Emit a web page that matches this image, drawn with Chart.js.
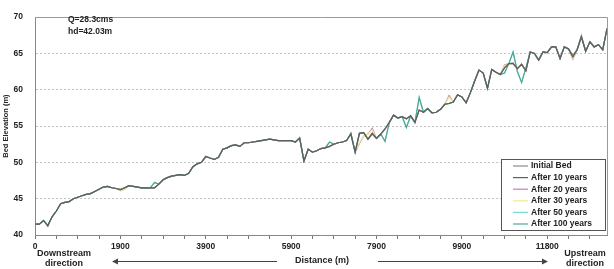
<!DOCTYPE html>
<html>
<head>
<meta charset="utf-8">
<script src="https://cdn.jsdelivr.net/npm/chart.js@4.4.0/dist/chart.umd.min.js"></script>
<style>
  html, body { margin: 0; padding: 0; background: #fff; }
  #wrap { width: 614px; height: 269px; }
</style>
</head>
<body>
<div id="wrap"><canvas id="bedChart" width="614" height="269"></canvas></div>
<script>
const FONT = "'Liberation Sans', Arial, sans-serif";

// distance along the channel (m), one category per cross section
const distances = [
  0, 50, 100, 200, 300, 400, 500, 600, 700, 800,
  900, 1000, 1100, 1200, 1300, 1400, 1500, 1600, 1700, 1800,
  1900, 2000, 2100, 2200, 2300, 2400, 2500, 2600, 2700, 2800,
  2900, 3000, 3100, 3200, 3300, 3400, 3500, 3600, 3700, 3800,
  3900, 4000, 4100, 4200, 4300, 4400, 4500, 4600, 4700, 4800,
  4900, 5000, 5100, 5200, 5300, 5400, 5500, 5600, 5700, 5800,
  5900, 6000, 6100, 6200, 6300, 6400, 6500, 6600, 6700, 6800,
  6900, 7000, 7100, 7200, 7300, 7400, 7500, 7600, 7700, 7800,
  7900, 8000, 8100, 8200, 8300, 8400, 8500, 8600, 8700, 8800,
  8900, 9000, 9100, 9200, 9300, 9400, 9500, 9600, 9700, 9800,
  9900, 10000, 10100, 10200, 10300, 10400, 10500, 10600, 10700, 10800,
  10850, 10900, 11000, 11100, 11200, 11300, 11400, 11500, 11600, 11700,
  11800, 11900, 12000, 12100, 12200, 12300, 12400, 12500, 12600, 12700,
  12800, 12900, 13000, 13100, 13200
];

const seriesNames = ['Initial Bed', 'After 10 years', 'After 20 years', 'After 30 years', 'After 50 years', 'After 100 years'];
const seriesColors = ['#8c8c8c', '#5e5e5e', '#c47cc4', '#eeee88', '#7ad8d8', '#4fa896'];
const notes = ['Q=28.3cms', 'hd=42.03m'];

// bed elevation (m)
const initialBed = [
  41.5, 41.5, 42.0, 41.2, 42.5, 43.3, 44.3, 44.5, 44.6, 45.0,
  45.2, 45.4, 45.6, 45.7, 46.0, 46.3, 46.6, 46.7, 46.5, 46.4,
  46.3, 46.5, 46.8, 46.7, 46.6, 46.5, 46.5, 46.5, 46.5, 47.0,
  47.6, 47.9, 48.1, 48.2, 48.3, 48.2, 48.5, 49.4, 49.8, 50.0,
  50.8, 50.6, 50.4, 50.7, 51.8, 52.0, 52.3, 52.4, 52.2, 52.7,
  52.7, 52.8, 52.9, 53.0, 53.1, 53.2, 53.1, 53.0, 53.0, 53.0,
  53.0, 52.8, 53.4, 50.2, 51.8, 51.4, 51.6, 51.9, 52.0, 52.2,
  52.5, 52.7, 52.8, 53.0, 53.9, 51.4, 54.0, 54.1, 53.2, 54.0,
  53.3, 53.9, 54.6, 55.5, 56.5, 56.1, 56.3, 56.0, 56.4, 55.5,
  57.2, 56.9, 57.4, 56.8, 56.9, 57.3, 58.0, 58.1, 58.3, 59.3,
  59.0, 58.2, 59.6, 61.2, 62.7, 62.3, 60.2, 62.8, 62.4, 62.1,
  63.0, 63.6, 63.7, 62.9, 63.5, 62.6, 65.2, 65.0, 64.1, 65.2,
  65.1, 65.9, 65.9, 64.3, 65.9, 65.6, 64.7, 65.5, 67.3, 65.3,
  66.6, 65.9, 66.2, 65.5, 68.4
];
const after10 = [
  41.5, 41.5, 42.0, 41.3, 42.5, 43.3, 44.3, 44.5, 44.6, 45.0,
  45.2, 45.4, 45.6, 45.7, 46.0, 46.3, 46.6, 46.7, 46.5, 46.4,
  46.2, 46.5, 46.8, 46.7, 46.6, 46.5, 46.5, 46.5, 46.5, 47.0,
  47.6, 47.9, 48.1, 48.2, 48.3, 48.2, 48.5, 49.4, 49.8, 50.0,
  50.8, 50.6, 50.4, 50.7, 51.8, 52.0, 52.3, 52.4, 52.2, 52.7,
  52.7, 52.8, 52.9, 53.0, 53.1, 53.2, 53.1, 53.0, 53.0, 53.0,
  53.0, 52.8, 53.3, 50.2, 51.8, 51.4, 51.6, 51.9, 52.0, 52.2,
  52.5, 52.7, 52.8, 53.0, 53.9, 51.4, 54.0, 54.1, 53.2, 54.0,
  53.3, 53.9, 54.6, 55.5, 56.5, 56.1, 56.3, 56.0, 56.4, 55.5,
  57.2, 56.9, 57.4, 56.8, 56.9, 57.3, 58.0, 58.1, 58.3, 59.3,
  59.0, 58.2, 59.6, 61.2, 62.7, 62.3, 60.2, 62.8, 62.4, 62.1,
  63.0, 63.6, 63.6, 62.9, 63.5, 62.6, 65.2, 65.0, 64.1, 65.2,
  65.1, 65.9, 65.9, 64.3, 65.9, 65.6, 64.5, 65.5, 67.3, 65.3,
  66.6, 65.9, 66.2, 65.5, 68.4
];
const after20 = [
  41.5, 41.5, 42.0, 41.3, 42.5, 43.3, 44.3, 44.5, 44.6, 45.0,
  45.2, 45.4, 45.6, 45.7, 46.0, 46.3, 46.6, 46.7, 46.5, 46.4,
  46.1, 46.3, 46.8, 46.7, 46.6, 46.5, 46.5, 46.5, 46.5, 47.0,
  47.6, 47.9, 48.1, 48.2, 48.3, 48.2, 48.5, 49.4, 49.8, 50.0,
  50.8, 50.6, 50.4, 50.7, 51.8, 52.0, 52.3, 52.4, 52.2, 52.7,
  52.7, 52.8, 52.9, 53.0, 53.1, 53.2, 53.1, 53.0, 53.0, 53.0,
  53.0, 52.8, 53.3, 50.2, 51.8, 51.4, 51.6, 51.9, 52.0, 52.2,
  52.5, 52.7, 52.8, 53.0, 54.0, 51.4, 52.6, 53.6, 53.9, 54.7,
  53.3, 53.9, 54.6, 55.5, 56.5, 56.1, 56.3, 56.0, 56.4, 55.5,
  57.2, 56.9, 57.4, 56.8, 56.9, 57.3, 58.0, 59.2, 58.3, 59.3,
  59.0, 58.2, 59.6, 61.2, 62.7, 62.3, 60.2, 62.8, 62.4, 62.1,
  63.4, 63.6, 63.6, 62.9, 63.5, 62.6, 65.2, 65.0, 64.1, 65.2,
  65.1, 65.9, 65.9, 64.3, 65.9, 65.6, 64.2, 65.5, 67.5, 65.3,
  66.6, 65.9, 66.2, 65.5, 68.4
];
const after30 = [
  41.5, 41.5, 42.0, 41.3, 42.5, 43.3, 44.3, 44.5, 44.6, 45.0,
  45.2, 45.4, 45.6, 45.7, 46.0, 46.3, 46.6, 46.7, 46.5, 46.4,
  46.1, 46.3, 46.8, 46.7, 46.6, 46.5, 46.5, 46.5, 46.5, 47.0,
  47.6, 47.9, 48.1, 48.2, 48.3, 48.2, 48.5, 49.4, 49.8, 50.0,
  50.8, 50.6, 50.4, 50.7, 51.8, 52.0, 52.3, 52.4, 52.2, 52.7,
  52.7, 52.8, 52.9, 53.0, 53.1, 53.2, 53.1, 53.0, 53.0, 53.0,
  53.0, 52.8, 53.3, 50.2, 51.8, 51.4, 51.6, 51.9, 52.0, 52.2,
  52.5, 52.7, 52.8, 53.0, 54.0, 51.4, 52.7, 53.6, 53.9, 54.5,
  53.3, 53.9, 54.6, 55.5, 56.5, 56.1, 56.3, 56.0, 56.4, 55.5,
  57.2, 56.9, 57.4, 56.8, 56.9, 57.3, 58.0, 59.0, 58.3, 59.3,
  59.0, 58.2, 59.6, 61.2, 62.7, 62.3, 60.2, 62.8, 62.4, 62.1,
  63.3, 63.6, 63.6, 62.9, 63.5, 62.6, 65.2, 65.0, 64.1, 65.2,
  65.1, 65.9, 65.9, 64.3, 65.9, 65.6, 64.3, 65.5, 67.4, 65.3,
  66.6, 65.9, 66.2, 65.5, 68.4
];
const after50 = [
  41.5, 41.5, 42.0, 41.3, 42.5, 43.3, 44.3, 44.5, 44.6, 45.0,
  45.2, 45.4, 45.6, 45.7, 46.0, 46.3, 46.6, 46.7, 46.5, 46.4,
  46.3, 46.5, 46.8, 46.7, 46.6, 46.5, 46.5, 46.5, 47.3, 47.0,
  47.6, 47.9, 48.1, 48.2, 48.3, 48.2, 48.5, 49.4, 49.8, 50.0,
  50.8, 50.6, 50.4, 50.7, 51.8, 52.0, 52.3, 52.4, 52.2, 52.7,
  52.7, 52.8, 52.9, 53.0, 53.1, 53.2, 53.1, 53.0, 53.0, 53.0,
  53.0, 52.8, 53.4, 50.2, 51.8, 51.4, 51.6, 51.9, 52.0, 52.8,
  52.5, 52.7, 52.8, 53.0, 54.0, 51.4, 54.0, 54.1, 53.2, 53.9,
  53.3, 53.9, 52.9, 55.5, 56.5, 56.1, 56.3, 54.8, 56.4, 55.5,
  59.0, 56.9, 57.4, 56.8, 56.9, 57.3, 58.0, 58.1, 58.3, 59.3,
  59.0, 58.2, 59.6, 61.2, 62.7, 62.3, 60.2, 62.8, 62.4, 62.1,
  62.3, 63.6, 65.2, 62.5, 61.0, 63.0, 65.2, 65.0, 64.1, 65.2,
  65.1, 65.9, 65.9, 64.3, 65.9, 65.6, 64.7, 65.5, 67.3, 65.3,
  66.6, 65.9, 66.2, 65.5, 68.4
];
const after100 = [
  41.5, 41.5, 42.0, 41.3, 42.5, 43.3, 44.3, 44.5, 44.6, 45.0,
  45.2, 45.4, 45.6, 45.7, 46.0, 46.3, 46.6, 46.7, 46.5, 46.4,
  46.3, 46.5, 46.8, 46.7, 46.6, 46.5, 46.5, 46.5, 47.2, 47.0,
  47.6, 47.9, 48.1, 48.2, 48.3, 48.2, 48.5, 49.4, 49.8, 50.0,
  50.8, 50.6, 50.4, 50.7, 51.8, 52.0, 52.3, 52.4, 52.2, 52.7,
  52.7, 52.8, 52.9, 53.0, 53.1, 53.2, 53.1, 53.0, 53.0, 53.0,
  53.0, 52.8, 53.4, 50.2, 51.8, 51.4, 51.6, 51.9, 52.0, 52.8,
  52.5, 52.7, 52.8, 53.0, 54.0, 51.4, 54.0, 54.1, 53.2, 53.9,
  53.3, 53.9, 52.9, 55.5, 56.5, 56.1, 56.3, 54.8, 56.4, 55.5,
  58.9, 56.9, 57.4, 56.8, 56.9, 57.3, 58.0, 58.1, 58.3, 59.3,
  59.0, 58.2, 59.6, 61.2, 62.7, 62.3, 60.2, 62.8, 62.4, 62.1,
  62.3, 63.6, 65.2, 62.5, 61.0, 63.0, 65.2, 65.0, 64.1, 65.2,
  65.1, 65.9, 65.9, 64.3, 65.9, 65.6, 64.7, 65.5, 67.3, 65.3,
  66.6, 65.9, 66.2, 65.5, 68.4
];
const allSeries = [initialBed, after10, after20, after30, after50, after100];
// draw order: dark grey lines on top, like the original
const drawOrder = [1, 0, 5, 4, 3, 2];

const extras = {
  id: 'extras',
  afterDraw(chart) {
    const ctx = chart.ctx, a = chart.chartArea;
    ctx.save();

    // top / right frame of the plot area
    ctx.strokeStyle = '#9a9a9a';
    ctx.lineWidth = 1;
    ctx.beginPath();
    ctx.moveTo(a.left, Math.round(a.top) + 0.5);
    ctx.lineTo(Math.round(a.right) + 0.5, Math.round(a.top) + 0.5);
    ctx.lineTo(Math.round(a.right) + 0.5, a.bottom);
    ctx.stroke();

    // flow notes
    ctx.fillStyle = '#222';
    ctx.font = 'bold 8.5px ' + FONT;
    ctx.textAlign = 'left';
    ctx.textBaseline = 'middle';
    notes.forEach((t, i) => ctx.fillText(t, 68, 20 + i * 12));

    // legend box
    const lx = 501, ly = 159, lw = 104, lh = 71;
    ctx.fillStyle = '#fff';
    ctx.fillRect(lx, ly, lw, lh);
    ctx.strokeStyle = '#555';
    ctx.strokeRect(lx + 0.5, ly + 0.5, lw, lh);
    ctx.font = 'bold 8.5px ' + FONT;
    seriesNames.forEach((name, i) => {
      const yy = 166 + i * 11.6;
      ctx.strokeStyle = seriesColors[i];
      ctx.lineWidth = 1.2;
      ctx.beginPath();
      ctx.moveTo(513, yy);
      ctx.lineTo(528, yy);
      ctx.stroke();
      ctx.fillStyle = '#222';
      ctx.fillText(name, 531, yy);
    });

    // bottom captions and arrows
    ctx.font = 'bold 9px ' + FONT;
    ctx.textAlign = 'center';
    ctx.fillStyle = '#222';
    ctx.fillText('Downstream', 64, 254);
    ctx.fillText('direction', 64, 264);
    ctx.fillText('Upstream', 585, 254);
    ctx.fillText('direction', 585, 264);
    ctx.fillText('Distance (m)', 322, 261);

    ctx.strokeStyle = '#444';
    ctx.fillStyle = '#444';
    ctx.lineWidth = 1;
    ctx.beginPath();
    ctx.moveTo(277, 261.5); ctx.lineTo(116, 261.5);
    ctx.moveTo(378, 261.5); ctx.lineTo(544, 261.5);
    ctx.stroke();
    ctx.beginPath();
    ctx.moveTo(112, 261.5); ctx.lineTo(118, 258.5); ctx.lineTo(118, 264.5); ctx.closePath();
    ctx.moveTo(548, 261.5); ctx.lineTo(542, 258.5); ctx.lineTo(542, 264.5); ctx.closePath();
    ctx.fill();

    ctx.restore();
  }
};

new Chart(document.getElementById('bedChart'), {
  type: 'line',
  data: {
    labels: distances,
    datasets: seriesNames.map((name, i) => ({
      label: name,
      data: allSeries[i],
      borderColor: seriesColors[i],
      backgroundColor: seriesColors[i],
      borderWidth: 1.2,
      pointRadius: 0,
      tension: 0,
      order: drawOrder[i]
    }))
  },
  options: {
    responsive: false,
    devicePixelRatio: 1,
    animation: false,
    layout: { padding: { top: 6, right: 7, left: 0, bottom: 0 } },
    plugins: { legend: { display: false }, tooltip: { enabled: false } },
    scales: {
      x: {
        type: 'category',
        grid: { drawOnChartArea: false, drawTicks: true, tickLength: 4, tickColor: '#777' },
        border: { color: '#888', width: 1 },
        ticks: {
          autoSkip: false, maxRotation: 0, minRotation: 0, padding: 3,
          color: '#222',
          font: { family: FONT, size: 8.5, weight: 'bold' },
          callback: (v, i) => i % 20 === 0 ? distances[i] : (i % 5 === 0 ? '' : null)
        },
        afterFit: s => { s.height = 34; }
      },
      y: {
        min: 40, max: 70,
        grid: {
          drawTicks: false,
          color: c => (c.tick.value === 40 || c.tick.value === 70) ? 'rgba(0,0,0,0)' : '#c4c4c4'
        },
        border: { color: '#888', width: 1, dash: [2, 2] },
        ticks: {
          stepSize: 5, padding: 12, color: '#222',
          font: { family: FONT, size: 8.5, weight: 'bold' }
        },
        title: {
          display: true, text: 'Bed Elevation (m)', color: '#222',
          font: { family: FONT, size: 7.5, weight: 'bold' },
          padding: { top: 1, bottom: 0 }
        },
        afterFit: s => { s.width = 35; }
      }
    }
  },
  plugins: [extras]
});
</script>
</body>
</html>
